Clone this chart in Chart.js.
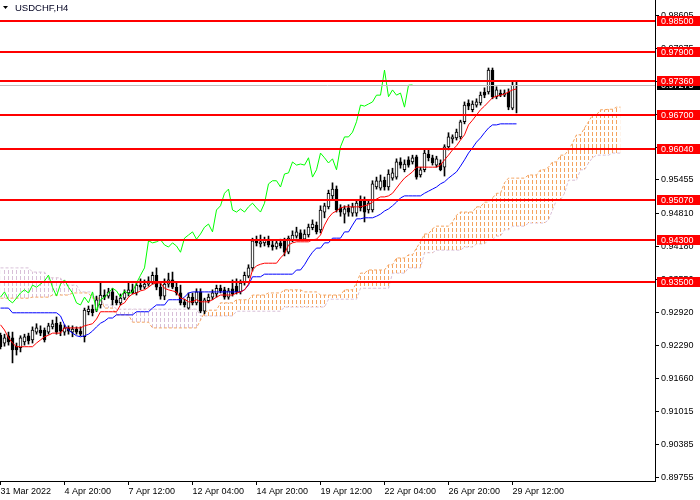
<!DOCTYPE html>
<html>
<head>
<meta charset="utf-8">
<script src="https://cdn.jsdelivr.net/npm/chart.js@4.4.1/dist/chart.umd.min.js"></script>
<style>
  html, body { margin: 0; padding: 0; background: #fff; }
  canvas { display: block; }
</style>
</head>
<body>
<canvas id="c" width="700" height="500"></canvas>
<script>
// USDCHF H4 candles, bar 0 = 31 Mar 04:00
const opens = [
  .9248,.9233,.9247,.9243,.9227,.9224,.9235,.9247,.9239,.9254,
  .9258,.9258,.9254,.9264,.9271,.9268,.9254,.9262,.9254,.9260,
  .9256,.9245,.9293,.9298,.9296,.9306,.9325,.9323,.9331,.9316,
  .9310,.9319,.9329,.9335,.9329,.9344,.9340,.9346,.9348,.9363,
  .9340,.9323,.9346,.9354,.9340,.9329,.9312,.9300,.9321,.9310,
  .9331,.9294,.9314,.9321,.9327,.9338,.9335,.9321,.9337,.9342,
  .9331,.9348,.9361,.9377,.9429,.9423,.9425,.9432,.9421,.9417,
  .9425,.9429,.9407,.9431,.9438,.9444,.9432,.9440,.9454,.9459,
  .9450,.9484,.9494,.9515,.9528,.9492,.9480,.9492,.9482,.9482,
  .9507,.9507,.9488,.9488,.9532,.9530,.9545,.9532,.9549,.9551,
  .9580,.9565,.9584,.9580,.9590,.9555,.9565,.9595,.9588,.9574,
  .9578,.9570,.9609,.9624,.9626,.9628,.9657,.9693,.9680,.9689,
  .9693,.9714,.9714,.9756,.9705,.9712,.9708,.9714,.9683,.9726
];
const highs = [
  .9252,.9250,.9254,.9254,.9233,.9247,.9250,.9252,.9264,.9270,
  .9266,.9262,.9271,.9277,.9283,.9273,.9268,.9266,.9266,.9264,
  .9264,.9300,.9304,.9306,.9323,.9348,.9335,.9338,.9338,.9323,
  .9327,.9335,.9348,.9346,.9348,.9356,.9354,.9360,.9369,.9377,
  .9350,.9356,.9367,.9369,.9348,.9344,.9317,.9329,.9329,.9337,
  .9337,.9319,.9327,.9335,.9344,.9344,.9340,.9338,.9354,.9356,
  .9354,.9369,.9383,.9434,.9438,.9440,.9436,.9438,.9429,.9431,
  .9432,.9434,.9438,.9448,.9455,.9450,.9450,.9461,.9469,.9465,
  .9496,.9501,.9526,.9540,.9534,.9498,.9496,.9498,.9501,.9507,
  .9515,.9513,.9507,.9544,.9551,.9555,.9551,.9565,.9568,.9586,
  .9588,.9584,.9590,.9593,.9593,.9570,.9603,.9603,.9593,.9591,
  .9584,.9613,.9636,.9632,.9643,.9660,.9695,.9699,.9697,.9701,
  .9714,.9722,.9760,.9760,.9724,.9718,.9718,.9720,.9735,.9735
];
const lows = [
  .9222,.9227,.9229,.9195,.9210,.9216,.9229,.9231,.9233,.9250,
  .9247,.9235,.9250,.9260,.9250,.9247,.9248,.9250,.9245,.9250,
  .9247,.9235,.9287,.9285,.9293,.9300,.9316,.9319,.9306,.9306,
  .9306,.9316,.9323,.9327,.9325,.9335,.9337,.9342,.9346,.9335,
  .9317,.9316,.9340,.9337,.9325,.9306,.9302,.9298,.9306,.9306,
  .9291,.9289,.9310,.9316,.9321,.9329,.9317,.9317,.9323,.9327,
  .9327,.9344,.9358,.9371,.9419,.9417,.9419,.9417,.9411,.9413,
  .9415,.9400,.9404,.9427,.9434,.9429,.9429,.9436,.9450,.9442,
  .9444,.9473,.9490,.9507,.9484,.9476,.9463,.9476,.9476,.9476,
  .9486,.9465,.9482,.9484,.9528,.9526,.9526,.9526,.9545,.9547,
  .9568,.9561,.9570,.9576,.9547,.9551,.9561,.9582,.9574,.9570,
  .9563,.9553,.9603,.9616,.9622,.9624,.9653,.9680,.9676,.9685,
  .9689,.9703,.9710,.9701,.9701,.9705,.9705,.9680,.9680,.9674
];
const closes = [
  .9226,.9243,.9235,.9220,.9220,.9243,.9245,.9237,.9258,.9262,
  .9252,.9239,.9266,.9270,.9254,.9256,.9262,.9256,.9260,.9254,
  .9250,.9296,.9298,.9291,.9316,.9325,.9321,.9331,.9316,.9310,
  .9319,.9329,.9335,.9329,.9344,.9340,.9346,.9352,.9363,.9340,
  .9323,.9346,.9354,.9340,.9329,.9310,.9306,.9321,.9310,.9331,
  .9294,.9316,.9321,.9329,.9338,.9333,.9321,.9333,.9327,.9331,
  .9348,.9363,.9377,.9429,.9425,.9427,.9431,.9421,.9417,.9425,
  .9419,.9407,.9434,.9440,.9446,.9432,.9442,.9455,.9461,.9446,
  .9488,.9496,.9520,.9528,.9488,.9484,.9490,.9484,.9494,.9501,
  .9492,.9484,.9501,.9538,.9544,.9544,.9532,.9557,.9559,.9580,
  .9574,.9576,.9574,.9588,.9551,.9565,.9597,.9588,.9578,.9586,
  .9565,.9609,.9628,.9628,.9637,.9657,.9689,.9687,.9691,.9695,
  .9708,.9708,.9756,.9705,.9718,.9708,.9712,.9685,.9727,.97275
];

// Ichimoku lines
const tenkan = [
  .9268,.9258,.9243,.9233,.9226,.9226,.9226,.9226,.9226,.9233,
  .9239,.9245,.9248,.9252,.9252,.9252,.9262,.9262,.9262,.9262,
  .9262,.9266,.9268,.9270,.9279,.9293,.9293,.9293,.9293,.9293,
  .9306,.9310,.9321,.9327,.9329,.9333,.9335,.9340,.9346,.9348,
  .9348,.9338,.9335,.9333,.9331,.9319,.9317,.9312,.9312,.9316,
  .9312,.9312,.9312,.9316,.9321,.9325,.9325,.9325,.9325,.9329,
  .9331,.9335,.9346,.9373,.9381,.9384,.9386,.9386,.9386,.9386,
  .9396,.9404,.9421,.9425,.9427,.9427,.9427,.9427,.9431,.9432,
  .9440,.9459,.9473,.9482,.9486,.9492,.9494,.9494,.9494,.9494,
  .9494,.9496,.9498,.9503,.9509,.9513,.9513,.9515,.9520,.9530,
  .9540,.9549,.9555,.9561,.9570,.9570,.9570,.9570,.9570,.9570,
  .9574,.9584,.9593,.9603,.9611,.9622,.9632,.9651,.9660,.9670,
  .9680,.9687,.9695,.9703,.9706,.9708,.9710,.9714,.9718,.9720
];
const kijun = [
  .9300,.9300,.9300,.9291,.9291,.9291,.9291,.9291,.9291,.9291,
  .9291,.9291,.9291,.9291,.9291,.9285,.9268,.9258,.9252,.9247,
  .9245,.9247,.9250,.9256,.9264,.9271,.9275,.9281,.9281,.9287,
  .9287,.9287,.9287,.9287,.9293,.9293,.9293,.9293,.9300,.9306,
  .9306,.9306,.9316,.9316,.9316,.9316,.9321,.9329,.9331,.9331,
  .9331,.9331,.9331,.9331,.9331,.9331,.9331,.9331,.9331,.9331,
  .9331,.9335,.9344,.9360,.9360,.9360,.9365,.9365,.9365,.9365,
  .9365,.9365,.9365,.9365,.9373,.9373,.9383,.9396,.9407,.9415,
  .9415,.9425,.9425,.9434,.9434,.9434,.9446,.9446,.9459,.9471,
  .9471,.9473,.9473,.9473,.9476,.9480,.9486,.9490,.9496,.9503,
  .9511,.9515,.9515,.9515,.9515,.9515,.9520,.9524,.9528,.9532,
  .9538,.9542,.9549,.9555,.9561,.9572,.9584,.9597,.9607,.9618,
  .9626,.9636,.9645,.9651,.9651,.9653,.9653,.9653,.9653,.9653
];
// senkou spans, already shifted 26 bars ahead (156 bars)
const spanA = [
  .9319,.9319,.9319,.9319,.9319,.9319,.9319,.9319,.9321,.9321,
  .9321,.9321,.9321,.9325,.9325,.9325,.9325,.9325,.9329,.9329,
  .9329,.9329,.9329,.9319,.9319,.9319,.9300,.9300,.9300,.9287,
  .9287,.9287,.9287,.9273,.9273,.9273,.9273,.9273,.9262,.9262,
  .9262,.9262,.9262,.9262,.9262,.9262,.9262,.9262,.9262,.9262,
  .9277,.9291,.9296,.9296,.9296,.9310,.9310,.9310,.9310,.9316,
  .9316,.9316,.9316,.9325,.9325,.9325,.9325,.9329,.9329,.9329,
  .9329,.9335,.9335,.9335,.9335,.9335,.9331,.9331,.9331,.9331,
  .9325,.9325,.9325,.9325,.9325,.9325,.9335,.9335,.9335,.9348,
  .9367,.9367,.9373,.9373,.9373,.9373,.9373,.9383,.9383,.9396,
  .9396,.9396,.9402,.9402,.9415,.9427,.9442,.9442,.9452,.9457,
  .9457,.9457,.9457,.9465,.9478,.9484,.9484,.9484,.9484,.9494,
  .9494,.9503,.9503,.9511,.9520,.9520,.9540,.9549,.9549,.9549,
  .9549,.9549,.9555,.9555,.9555,.9565,.9565,.9570,.9580,.9580,
  .9593,.9593,.9603,.9616,.9632,.9632,.9645,.9657,.9670,.9670,
  .9680,.9680,.9681,.9681,.9685,.9685
];
const spanB = [
  .9377,.9377,.9377,.9377,.9377,.9377,.9377,.9377,.9369,.9369,
  .9369,.9369,.9358,.9358,.9358,.9358,.9344,.9344,.9344,.9344,
  .9331,.9331,.9331,.9331,.9316,.9316,.9306,.9306,.9306,.9298,
  .9298,.9298,.9298,.9298,.9298,.9298,.9298,.9298,.9298,.9298,
  .9298,.9298,.9298,.9298,.9298,.9298,.9298,.9298,.9298,.9298,
  .9285,.9285,.9285,.9285,.9285,.9285,.9285,.9285,.9285,.9294,
  .9294,.9294,.9294,.9294,.9294,.9294,.9294,.9294,.9294,.9294,
  .9294,.9302,.9302,.9302,.9302,.9302,.9302,.9302,.9302,.9302,
  .9302,.9302,.9317,.9317,.9317,.9317,.9317,.9317,.9317,.9317,
  .9338,.9338,.9338,.9338,.9338,.9338,.9338,.9338,.9367,.9367,
  .9367,.9367,.9377,.9377,.9377,.9377,.9406,.9406,.9406,.9411,
  .9411,.9411,.9411,.9411,.9411,.9411,.9417,.9417,.9417,.9423,
  .9423,.9423,.9431,.9431,.9438,.9438,.9450,.9450,.9457,.9457,
  .9457,.9457,.9463,.9463,.9463,.9463,.9463,.9469,.9488,.9507,
  .9507,.9520,.9545,.9545,.9545,.9565,.9565,.9578,.9588,.9593,
  .9593,.9593,.9593,.9597,.9597,.9597
];

const levels = [0.98500, 0.97900, 0.97360, 0.96700, 0.96040, 0.95070, 0.94300, 0.93500];
const bidPrice = 0.97275;
const priceTicks = [0.98605, 0.97975, 0.97345, 0.96715, 0.96085, 0.95455, 0.94810, 0.94180,
                    0.93550, 0.92920, 0.92290, 0.91660, 0.91015, 0.90385, 0.89755];
const timeTickIdx = [0, 16, 32, 48, 64, 80, 96, 112, 128];
const timeTickLabels = ['31 Mar 2022', '4 Apr 20:00', '7 Apr 12:00', '12 Apr 04:00', '14 Apr 20:00',
                        '19 Apr 12:00', '22 Apr 04:00', '26 Apr 20:00', '29 Apr 12:00'];

const FONT = 'Liberation Sans, Arial, sans-serif';
const canvas = document.getElementById('c');
const ctx = canvas.getContext('2d');

// hatching for the cloud, one dashed stroke per bar
function hatch(color) {
  const tile = document.createElement('canvas');
  tile.width = 4; tile.height = 6;
  const g = tile.getContext('2d');
  g.fillStyle = color;
  g.fillRect(0, 0, 1, 4);
  return ctx.createPattern(tile, 'repeat');
}
const bullCloud = hatch('#F4A460');
const bearCloud = hatch('#D8BFD8');

const xy = arr => arr.map((v, i) => ({ x: i, y: v }));
const bodies = opens.map((o, i) => ({ x: i, y: [o, closes[i]] }));
const wicks = lows.map((l, i) => ({ x: i, y: [l, highs[i]] }));
const bodyColors = opens.map((o, i) => closes[i] >= o ? '#ffffff' : '#000000');
const chikou = closes.slice(26).map((v, i) => ({ x: i, y: v }));

const overlay = {
  id: 'overlay',
  afterDatasetsDraw(chart) {
    const { ctx, chartArea: a, scales: { y } } = chart;
    ctx.save();
    let p = Math.round(y.getPixelForValue(bidPrice)) + 0.5;
    ctx.strokeStyle = '#c0c0c0';
    ctx.lineWidth = 1;
    ctx.beginPath(); ctx.moveTo(a.left, p); ctx.lineTo(a.right, p); ctx.stroke();
    ctx.strokeStyle = '#ff0000';
    ctx.lineWidth = 2;
    levels.forEach(v => {
      p = Math.round(y.getPixelForValue(v));
      ctx.beginPath(); ctx.moveTo(a.left, p); ctx.lineTo(a.right, p); ctx.stroke();
    });
    ctx.restore();
  },
  afterDraw(chart) {
    const { ctx, chartArea: a, scales: { y } } = chart;
    ctx.save();
    ctx.font = '9px ' + FONT;
    ctx.textBaseline = 'middle';
    const tag = (v, bg) => {
      const p = Math.round(y.getPixelForValue(v));
      ctx.fillStyle = bg;
      ctx.fillRect(a.right + 2, p - 5, chart.width - a.right - 2, 10);
      ctx.fillStyle = '#ffffff';
      ctx.fillText(v.toFixed(5), a.right + 6, p + 0.5);
    };
    tag(bidPrice, '#000000');
    levels.forEach(v => tag(v, '#ff0000'));

    // symbol caption
    ctx.fillStyle = '#000000';
    ctx.beginPath(); ctx.moveTo(3, 6); ctx.lineTo(8, 6); ctx.lineTo(5.5, 9); ctx.closePath(); ctx.fill();
    ctx.fillStyle = '#000020';
    ctx.font = '9.5px ' + FONT;
    ctx.fillText('USDCHF,H4', 15, 8);
    ctx.restore();
  }
};

new Chart(ctx, {
  type: 'line',
  data: {
    datasets: [
      { type: 'line', data: xy(spanB), borderColor: '#D8BFD8', borderWidth: 1, borderDash: [3, 2],
        pointRadius: 0, fill: false, order: 10 },
      { type: 'line', data: xy(spanA), borderColor: '#F4A460', borderWidth: 1, borderDash: [3, 2],
        pointRadius: 0, fill: { target: 0, above: bullCloud, below: bearCloud }, order: 9 },
      { type: 'bar', data: wicks, backgroundColor: '#000000', borderWidth: 0,
        barThickness: 1, grouped: false, order: 8 },
      { type: 'bar', data: bodies, backgroundColor: bodyColors, borderColor: '#000000', borderWidth: 1,
        borderSkipped: false, barThickness: 3, grouped: false, order: 7 },
      { type: 'line', data: chikou, borderColor: '#00FF00', borderWidth: 1, pointRadius: 0, fill: false, order: 3 },
      { type: 'line', data: xy(kijun), borderColor: '#0000FF', borderWidth: 1, pointRadius: 0, fill: false, order: 2 },
      { type: 'line', data: xy(tenkan), borderColor: '#FF0000', borderWidth: 1, pointRadius: 0, fill: false, order: 1 }
    ]
  },
  options: {
    responsive: false,
    animation: false,
    devicePixelRatio: 1,
    events: [],
    layout: { padding: 0 },
    plugins: { legend: { display: false }, tooltip: { enabled: false } },
    scales: {
      x: {
        type: 'linear', min: -0.125, max: 163.625, offset: false,
        afterBuildTicks: s => { s.ticks = timeTickIdx.map(v => ({ value: v })); },
        afterFit: s => { s.height = 19; s.paddingLeft = 0; s.paddingRight = 0; },
        ticks: {
          callback: v => timeTickLabels[timeTickIdx.indexOf(v)],
          align: 'start', padding: 1, maxRotation: 0, autoSkip: false,
          color: '#000', font: { family: FONT, size: 9 }
        },
        grid: { drawOnChartArea: false, offset: false, tickLength: 4, color: '#000' },
        border: { display: true, color: '#000' }
      },
      y: {
        type: 'linear', position: 'right', min: 0.89687, max: 0.98903,
        afterBuildTicks: s => { s.ticks = priceTicks.map(v => ({ value: v })); },
        afterFit: s => { s.width = 45; s.paddingTop = 0; s.paddingBottom = 0; },
        ticks: {
          callback: v => v.toFixed(5), padding: 2, autoSkip: false,
          color: '#000', font: { family: FONT, size: 9 }
        },
        grid: { drawOnChartArea: false, tickLength: 4, color: '#000' },
        border: { display: true, color: '#000' }
      }
    }
  },
  plugins: [overlay]
});
</script>
</body>
</html>
